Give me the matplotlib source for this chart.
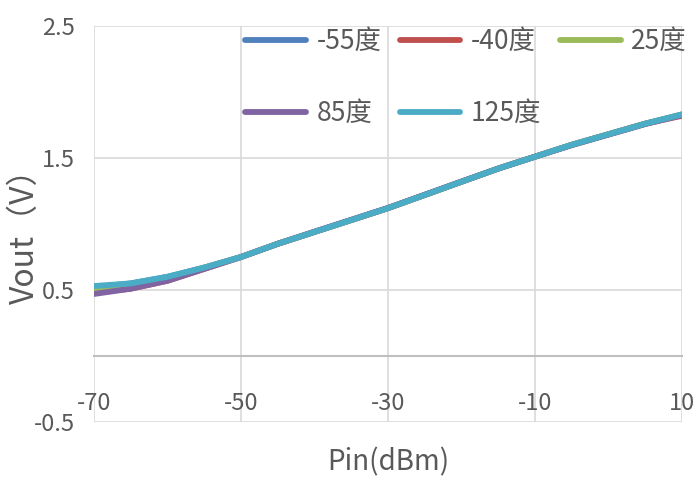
import matplotlib
matplotlib.use("Agg")
import matplotlib.pyplot as plt
import numpy as np

plt.rcParams['font.family'] = ['Noto Sans CJK SC', 'DejaVu Sans']
plt.rcParams['axes.unicode_minus'] = False

# 输入功率 (dBm)
pin = [-70, -65, -60, -55, -50, -45, -40, -35, -30, -25, -20, -15, -10, -5, 0, 5, 10]

# 各温度下的输出电压 (V)
vout_m55 = [0.52, 0.55, 0.60, 0.67, 0.75, 0.85, 0.94, 1.03, 1.12, 1.22, 1.32, 1.42, 1.51, 1.60, 1.68, 1.76, 1.83]
vout_m40 = [0.48, 0.51, 0.57, 0.66, 0.75, 0.85, 0.94, 1.03, 1.12, 1.22, 1.32, 1.42, 1.51, 1.60, 1.68, 1.76, 1.82]
vout_25 = [0.50, 0.53, 0.59, 0.67, 0.75, 0.85, 0.94, 1.03, 1.12, 1.22, 1.32, 1.42, 1.51, 1.60, 1.68, 1.76, 1.83]
vout_85 = [0.47, 0.51, 0.57, 0.66, 0.75, 0.85, 0.942, 1.032, 1.122, 1.222, 1.322, 1.42, 1.51, 1.597, 1.677, 1.757, 1.825]
vout_125 = [0.53, 0.55, 0.60, 0.67, 0.75, 0.85, 0.94, 1.03, 1.12, 1.22, 1.32, 1.42, 1.51, 1.60, 1.68, 1.76, 1.83]

labels = ['-55度', '-40度', '25度', '85度', '125度']
colors = ['#4F81BD', '#C0504D', '#9BBB59', '#8064A2', '#4BACC6']
series = [vout_m55, vout_m40, vout_25, vout_85, vout_125]

fig = plt.figure(figsize=(6.97, 4.80), dpi=100)
ax = fig.add_axes([94 / 697, 58 / 480, 588 / 697, 396 / 480])

lines = []
for y, c, lab in zip(series, colors, labels):
    ln, = ax.plot(pin, y, color=c, lw=4.2, label=lab, solid_capstyle='round')
    lines.append(ln)

ax.set_xlim(-70, 10)
ax.set_ylim(-0.5, 2.5)
ax.set_xticks([-70, -50, -30, -10, 10])
ax.set_yticks([-0.5, 0.5, 1.5, 2.5])
ax.set_yticklabels(['-0.5', '0.5', '1.5', '2.5'], va='center_baseline')
ax.grid(True, color='#d9d9d9', lw=1.2)
ax.set_axisbelow(True)

for s in ['top', 'right', 'left']:
    ax.spines[s].set_visible(False)
ax.spines['bottom'].set_position(('data', 0))
ax.spines['bottom'].set_color('#bfbfbf')
ax.spines['bottom'].set_linewidth(1.5)

ax.tick_params(axis='x', length=0, pad=26, labelsize=17, labelcolor='#595959')
ax.tick_params(axis='y', length=0, pad=14, labelsize=17, labelcolor='#595959')

ax.set_xlabel('Pin(dBm)', fontsize=20, color='#595959')
ax.xaxis.set_label_coords(0.5, -0.065)
ax.set_ylabel('Vout（V）', fontsize=23, color='#595959')
ax.yaxis.set_label_coords(-0.09, 0.49)

# 图例按行排列：列优先顺序重排
order = [0, 3, 1, 4, 2]
ax.legend([lines[i] for i in order], [labels[i] for i in order],
          ncol=3, loc='upper left', bbox_to_anchor=(0.257, 0.995),
          frameon=False, fontsize=19, borderpad=0, borderaxespad=0,
          handlelength=2.3, handletextpad=0.4, columnspacing=0.7,
          labelspacing=1.7, labelcolor='#595959')

fig.savefig('out.png', dpi=100)
